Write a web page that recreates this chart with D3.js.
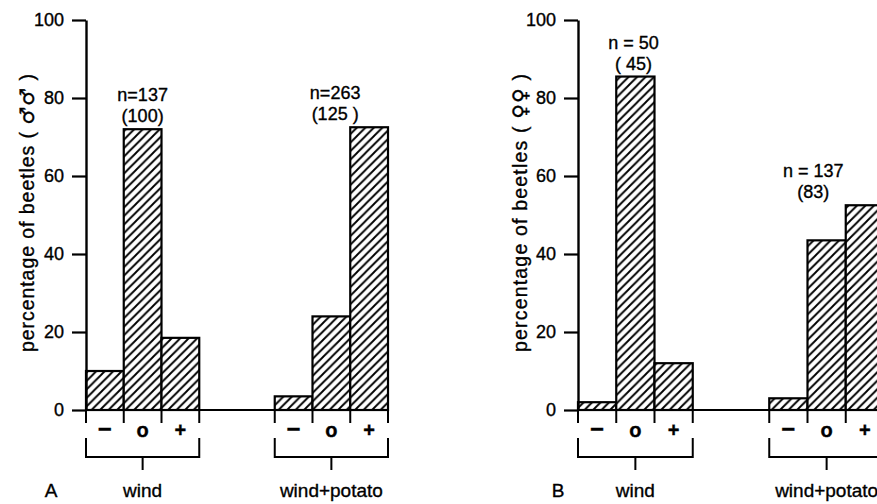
<!DOCTYPE html>
<html>
<head>
<meta charset="utf-8">
<script src="https://cdn.jsdelivr.net/npm/d3@7/dist/d3.min.js"></script>
<style>
  body { margin: 0; background: #fff; }
  svg { display: block; }
  text { font-family: "Liberation Sans", Arial, sans-serif; fill: #000; stroke: #000; stroke-width: 0.35px; }
</style>
</head>
<body>
<svg id="chart" width="877" height="504"></svg>
<script>
// ---- data ----
const categories = ["−", "o", "+"];
const groups = ["wind", "wind+potato"];
const yTicks = [0, 20, 40, 60, 80, 100];

const malesWind = [10, 72, 18.5];
const malesWindPotato = [3.5, 24, 72.5];
const femalesWind = [2, 85.5, 12];
const femalesWindPotato = [3, 43.5, 52.5];

const malesN = [["n=137", "(100)"], ["n=263", "(125 )"]];
const femalesN = [["n = 50", "( 45)"], ["n = 137", "(83)"]];

const panelLetters = ["A", "B"];
const yLabelText = "percentage of beetles ";
const yLabelSymbols = ["♂♂", "♀♀"];

// ---- layout ----
const svg = d3.select("#chart");

const defs = svg.append("defs");
const pat = defs.append("pattern")
  .attr("id", "hatch")
  .attr("patternUnits", "userSpaceOnUse")
  .attr("width", 8.5).attr("height", 8.5);
pat.append("rect").attr("width", 8.5).attr("height", 8.5).attr("fill", "#fff");
pat.append("path")
  .attr("d", "M-2,2 L2,-2 M0,8.5 L8.5,0 M6.5,10.5 L10.5,6.5")
  .attr("stroke", "#000").attr("stroke-width", 1.9);

const y = d3.scaleLinear().domain([0, 100]).range([410, 20]);

const panels = [
  { axisX: 86, range: [86, 388], baseEnd: 388, data: [malesWind, malesWindPotato], n: malesN,
    nShift: [0, 0.1], letterX: 51, yLabelX: 27 },
  { axisX: 578, range: [578, 884], baseEnd: 884, data: [femalesWind, femalesWindPotato], n: femalesN,
    nShift: [-0.05, -0.35], letterX: 558, yLabelX: 520 }
];

panels.forEach((p, pi) => {
  const g = svg.append("g");
  const xGroup = d3.scaleBand().domain(groups).range(p.range).paddingInner(0.4).paddingOuter(0);
  const xInner = d3.scaleBand().domain(categories).range([0, xGroup.bandwidth()]).padding(0);

  groups.forEach((grp, gi) => {
    const gx = xGroup(grp);
    const vals = p.data[gi];
    g.selectAll(null).data(vals).enter().append("rect")
      .attr("x", (d, i) => gx + xInner(categories[i]))
      .attr("y", d => y(d))
      .attr("width", xInner.bandwidth())
      .attr("height", d => y(0) - y(d))
      .attr("fill", "url(#hatch)")
      .attr("stroke", "#000").attr("stroke-width", 2.2);

    // bottom ticks at bar boundaries
    const bounds = categories.map(c => gx + xInner(c)).concat([gx + xGroup.bandwidth()]);
    g.selectAll(null).data(bounds).enter().append("line")
      .attr("x1", d => d).attr("x2", d => d)
      .attr("y1", y(0)).attr("y2", y(0) + 13)
      .attr("stroke", "#000").attr("stroke-width", 2);

    // category labels
    g.selectAll(null).data(categories).enter().append("text")
      .attr("x", c => gx + xInner(c) + xInner.bandwidth() / 2)
      .attr("y", y(0) + 27)
      .attr("text-anchor", "middle")
      .attr("font-size", c => c === "−" ? 24 : 20)
      .attr("font-weight", "bold")
      .text(c => c);

    // bracket
    const bx0 = gx, bx1 = gx + xGroup.bandwidth(), bm = (bx0 + bx1) / 2;
    g.append("path")
      .attr("d", `M${bx0},${y(0) + 28} V${y(0) + 47} H${bx1} V${y(0) + 28} M${bm},${y(0) + 47} V${y(0) + 60}`)
      .attr("fill", "none").attr("stroke", "#000").attr("stroke-width", 2);

    // group label
    g.append("text")
      .attr("x", bm).attr("y", 497)
      .attr("text-anchor", "middle")
      .attr("font-size", 19)
      .text(grp);

    // n labels (above the tallest bar of the group)
    const topVal = d3.max(vals);
    const nx = gx + xInner(categories[1]) + xInner.bandwidth() * (0.5 + p.nShift[gi]);
    g.append("text")
      .attr("x", nx).attr("y", y(topVal) - 28)
      .attr("text-anchor", "middle").attr("font-size", 18)
      .text(p.n[gi][0]);
    g.append("text")
      .attr("x", nx).attr("y", y(topVal) - 7)
      .attr("text-anchor", "middle").attr("font-size", 18)
      .text(p.n[gi][1]);
  });

  // baseline
  g.append("line")
    .attr("x1", p.axisX).attr("x2", p.baseEnd)
    .attr("y1", y(0)).attr("y2", y(0))
    .attr("stroke", "#000").attr("stroke-width", 2.2);

  // y axis
  const ax = g.append("g")
    .attr("transform", `translate(${p.axisX},0)`)
    .call(d3.axisLeft(y).tickValues(yTicks).tickSize(14).tickSizeOuter(0).tickPadding(8));
  ax.select(".domain").attr("stroke", "#000").attr("stroke-width", 2.4);
  ax.selectAll(".tick line").attr("stroke", "#000").attr("stroke-width", 2.2);
  ax.selectAll(".tick text")
    .attr("font-size", 18)
    .attr("font-family", "Liberation Sans, Arial, sans-serif")
    .attr("fill", "#000");

  // y label
  const yl = g.append("text")
    .attr("transform", `translate(${p.yLabelX},${213}) rotate(-90)`)
    .attr("text-anchor", "middle")
    .attr("dy", "0.35em")
    .attr("font-size", 19.5)
    .attr("textLength", 278)
    .attr("lengthAdjust", "spacing");
  yl.append("tspan").text(yLabelText + "( ");
  yl.append("tspan").attr("font-family", "DejaVu Sans").attr("font-size", 20).text(yLabelSymbols[pi]);
  yl.append("tspan").text(" )");

  // panel letter
  g.append("text")
    .attr("x", p.letterX).attr("y", 497)
    .attr("text-anchor", "middle")
    .attr("font-size", 19)
    .text(panelLetters[pi]);
});
</script>
</body>
</html>
